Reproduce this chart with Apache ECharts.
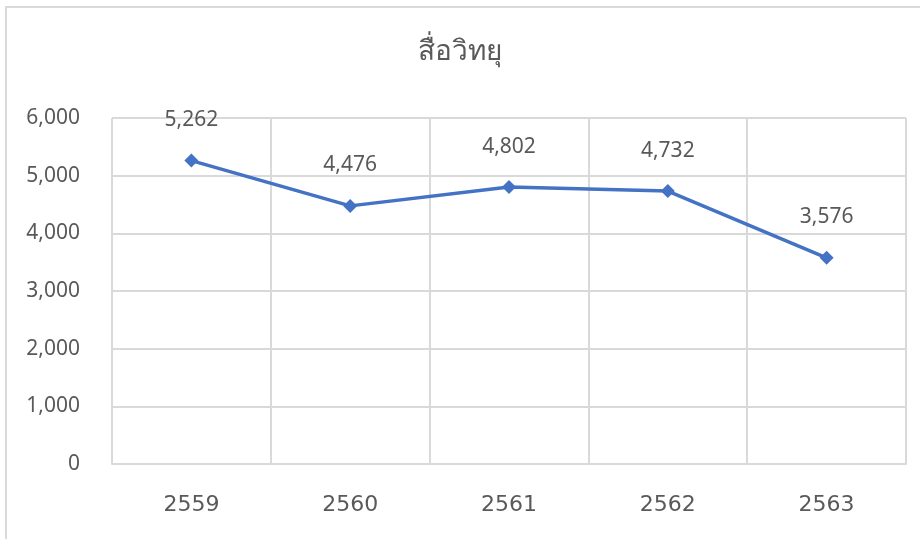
<!DOCTYPE html>
<html>
<head>
<meta charset="utf-8">
<script src="https://cdn.jsdelivr.net/npm/echarts@6/dist/echarts.min.js"></script>
<style>
  html, body { margin: 0; padding: 0; background: #fff; }
  #chart { width: 920px; height: 539px; }
</style>
</head>
<body>
<div id="chart"></div>
<script>
const years = ["2559", "2560", "2561", "2562", "2563"];
const radioValues = [5262, 4476, 4802, 4732, 3576];
const chartTitle = "สื่อวิทยุ";

const chart = echarts.init(document.getElementById("chart"));
const gray = "#595959";
const gridColor = "#d9d9d9";

const option = {
  backgroundColor: "#fff",
  animation: false,
  // chart area border (only left and top visible in the crop)
  graphic: [
    {
      type: "rect",
      shape: { x: 6, y: 7, width: 940, height: 560 },
      style: { fill: "none", stroke: gridColor, lineWidth: 2 },
      silent: true,
    },
  ],
  title: {
    text: chartTitle,
    left: "center",
    top: 33,
    textStyle: {
      fontSize: 28,
      fontWeight: "normal",
      color: gray,
      fontFamily: "Noto Sans, DejaVu Sans, sans-serif",
    },
  },
  grid: {
    left: 112,
    right: 14,
    top: 118,
    bottom: 75,
  },
  xAxis: {
    type: "category",
    data: years,
    boundaryGap: true,
    axisLine: { lineStyle: { color: gridColor, width: 2 } },
    axisTick: { show: false },
    splitLine: { show: true, lineStyle: { color: gridColor, width: 2 } },
    axisLabel: {
      margin: 30,
      fontSize: 22,
      color: gray,
      fontFamily: "DejaVu Sans",
    },
  },
  yAxis: {
    type: "value",
    min: 0,
    max: 6000,
    interval: 1000,
    axisLine: { show: false },
    axisTick: { show: false },
    splitLine: { lineStyle: { color: gridColor, width: 2 } },
    axisLabel: {
      margin: 32,
      fontSize: 21,
      color: gray,
      fontFamily: "Noto Sans",
      formatter: (v) => v.toLocaleString("en-US"),
    },
  },
  series: [
    {
      type: "line",
      data: radioValues,
      symbol: "diamond",
      symbolSize: 14,
      lineStyle: { color: "#4472C4", width: 3.5 },
      itemStyle: { color: "#4472C4" },
      label: {
        show: true,
        position: "top",
        distance: 23,
        fontSize: 21,
        color: gray,
        fontFamily: "Noto Sans",
        formatter: (p) => p.value.toLocaleString("en-US"),
      },
    },
  ],
};

chart.setOption(option);
</script>
</body>
</html>
